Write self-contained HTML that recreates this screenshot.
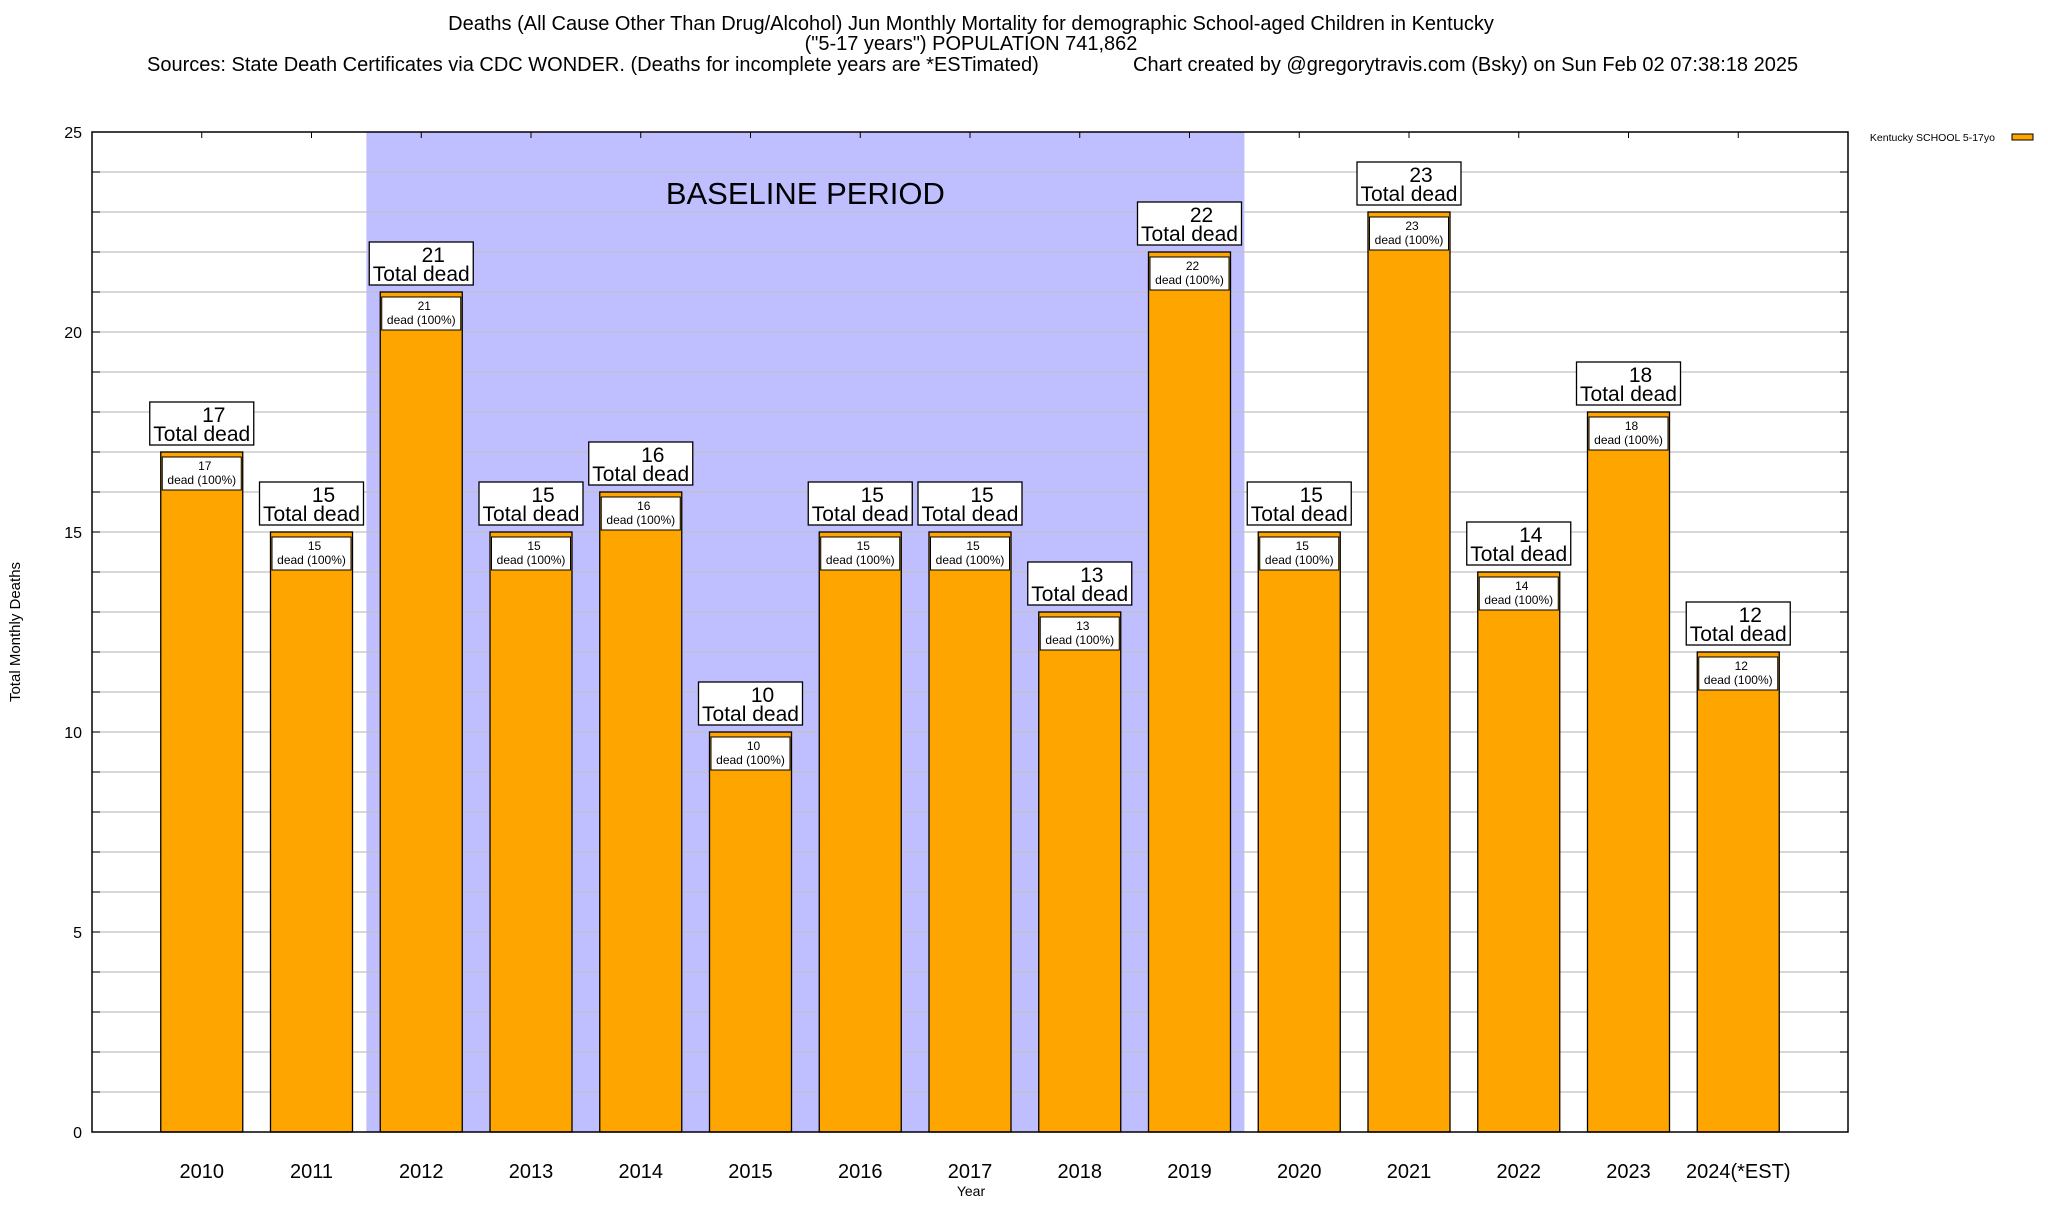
<!DOCTYPE html>
<html><head><meta charset="utf-8">
<style>
html,body{margin:0;padding:0;background:#fff;}
svg text{font-family:"Liberation Sans",sans-serif;fill:#000;}
</style></head>
<body>
<svg id="chart" width="2048" height="1200" xmlns="http://www.w3.org/2000/svg">
<rect x="0" y="0" width="2048" height="1200" fill="#fff"/>
<g>
<text x="971" y="30" font-size="20" text-anchor="middle">Deaths (All Cause Other Than Drug/Alcohol) Jun Monthly Mortality for demographic School-aged Children in Kentucky</text>
<text x="971" y="50" font-size="20" text-anchor="middle">("5-17 years") POPULATION 741,862</text>
<text x="147" y="71" font-size="20">Sources: State Death Certificates via CDC WONDER. (Deaths for incomplete years are *ESTimated)</text>
<text x="1133" y="71" font-size="20">Chart created by @gregorytravis.com (Bsky) on Sun Feb 02 07:38:18 2025</text>
</g>
<g id="plot"></g>
<text transform="translate(20,632) rotate(-90)" font-size="15" text-anchor="middle">Total Monthly Deaths</text>
<text x="971" y="1196" font-size="14" text-anchor="middle">Year</text>
<g>
<text x="1995" y="141" font-size="10.5" text-anchor="end">Kentucky SCHOOL 5-17yo</text>
<rect x="2012" y="134" width="21" height="6" fill="#ffa500" stroke="#000" stroke-width="1"/>
</g>
</svg>
<script>
const categories=["2010","2011","2012","2013","2014","2015","2016","2017","2018","2019","2020","2021","2022","2023","2024(*EST)"];
const values=[17,15,21,15,16,10,15,15,13,22,15,23,14,18,12];
const yTicks=[0,5,10,15,20,25];
const baselineStart=1.5, baselineEnd=9.5;

const L=92,R=1848,T=132,B=1132,yMax=25;
const slot=(R-L)/16;
const xS=i=>L+(i+1)*slot;
const yS=v=>B-(v/yMax)*(B-T);
const NS="http://www.w3.org/2000/svg";
const g=document.getElementById('plot');
function mk(tag,attrs,parent){const e=document.createElementNS(NS,tag);for(const k in attrs)e.setAttribute(k,attrs[k]);(parent||g).appendChild(e);return e;}

let band=mk('rect',{x:xS(baselineStart),y:T,width:xS(baselineEnd)-xS(baselineStart),height:B-T,fill:'#bfbfff'});


for(let v=1;v<yMax;v++){
  let l=mk('line',{x1:L,x2:R,y1:yS(v),y2:yS(v),stroke:'#c0c0c0','stroke-width':1.3});
  
  
  mk('line',{x1:L,x2:L+8,y1:yS(v),y2:yS(v),stroke:'#000','stroke-width':1});
  mk('line',{x1:R-8,x2:R,y1:yS(v),y2:yS(v),stroke:'#000','stroke-width':1});
}
let bt=mk('text',{x:(xS(baselineStart)+xS(baselineEnd))/2,y:204,'font-size':31,'text-anchor':'middle'});
bt.textContent='BASELINE PERIOD';



yTicks.forEach(v=>{
  let t=mk('text',{x:L-10,y:yS(v)+6,'font-size':16,'text-anchor':'end'});
  t.textContent=v;
  
  
});

categories.forEach((c,i)=>{
  const cx=xS(i),v=values[i],top=yS(v),w=82;
  mk('line',{x1:cx,x2:cx,y1:T,y2:T+6,stroke:'#000','stroke-width':1});
  let b=mk('rect',{x:cx-w/2,y:top,width:w,height:B-top,fill:'#ffa500',stroke:'#000','stroke-width':1.3});
  
  
  let ib=mk('rect',{x:cx-w/2+1.5,y:top+5,width:w-3,height:33,fill:'#fff',stroke:'#000','stroke-width':1});
  
  
  let t1=mk('text',{x:cx+3,y:top+18,'font-size':12,'text-anchor':'middle'});t1.textContent=v;
  
  
  let t2=mk('text',{x:cx,y:top+32,'font-size':12,'text-anchor':'middle'});t2.textContent='dead (100%)';
  
  
  let ob=mk('rect',{x:cx-52,y:top-50,width:104,height:43,fill:'#fff',stroke:'#000','stroke-width':1.3});
  
  
  let t3=mk('text',{x:cx+12,y:top-30,'font-size':21,'text-anchor':'middle'});t3.textContent=v;
  
  
  let t4=mk('text',{x:cx,y:top-11,'font-size':21,'text-anchor':'middle'});t4.textContent='Total dead';
  
  
  let xl=mk('text',{x:cx,y:1178,'font-size':20,'text-anchor':'middle'});xl.textContent=c;
  
  
});
let frame=mk('rect',{x:L,y:T,width:R-L,height:B-T,fill:'none',stroke:'#000','stroke-width':1.5});


</script>
</body></html>
